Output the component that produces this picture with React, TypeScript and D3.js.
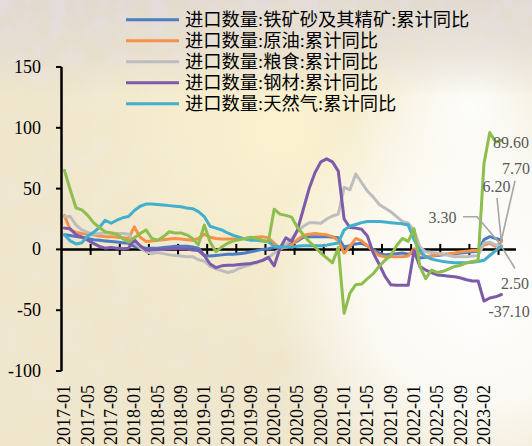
import React from 'react';
import * as d3 from 'd3';

// ---- categories (2023-01 is absent: Jan-Feb are reported together) ----
const categories: string[] = [
  '2017-01','2017-02','2017-03','2017-04','2017-05','2017-06','2017-07','2017-08','2017-09','2017-10','2017-11','2017-12',
  '2018-01','2018-02','2018-03','2018-04','2018-05','2018-06','2018-07','2018-08','2018-09','2018-10','2018-11','2018-12',
  '2019-01','2019-02','2019-03','2019-04','2019-05','2019-06','2019-07','2019-08','2019-09','2019-10','2019-11','2019-12',
  '2020-01','2020-02','2020-03','2020-04','2020-05','2020-06','2020-07','2020-08','2020-09','2020-10','2020-11','2020-12',
  '2021-01','2021-02','2021-03','2021-04','2021-05','2021-06','2021-07','2021-08','2021-09','2021-10','2021-11','2021-12',
  '2022-01','2022-02','2022-03','2022-04','2022-05','2022-06','2022-07','2022-08','2022-09','2022-10','2022-11','2022-12',
  '2023-02','2023-03','2023-04','2023-05','2023-06','2023-07',
];

// ---- series values (cumulative y/y, %) ----
const ironOre: number[] = [
  12, 11.5, 10.5, 10, 9, 8, 7.5, 7, 6.5, 6, 5.5, 5,
  2.5, 1.5, 1, 1, 1, 1.5, 2, 2.5, 2.5, 2.5, 2, 1,
  -5, -5.5, -5, -4.5, -4, -4, -3.5, -3, -2, -1, 0, 0.5,
  1.5, 2, 3, 4.5, 7, 10, 10.5, 10.5, 10.5, 10.5, 10, 9.5,
  2, 3, 4.5, 5, 3, 0, -3, -4.5, -4, -3.5, -3, -3.9,
  -2.5, -7, -6.5, -5.5, -5, -4.5, -4, -3.5, -3, -2.5, -2, -1.5,
  8, 10.5, 9, 7.7,
];
const crudeOil: number[] = [
  28, 16, 14, 13, 12.5, 12, 11, 10.5, 10.5, 10, 9.5, 9,
  18.5, 10, 6.5, 7, 7.5, 8, 8.5, 9, 8.5, 8, 7.5, 9,
  12.5, 10, 9, 8.5, 8.5, 8.5, 9, 9, 9.5, 10, 10.5, 9.5,
  5, 1, 1.5, 4, 8, 11.5, 12.5, 13, 12.5, 12, 10.5, 7.3,
  -3, 2.5, 9, 7, 3, -1.5, -5, -6, -6, -6, -6, -5.4,
  0.5, -3, -6, -5.5, -4.5, -4, -3.5, -3, -2, -1.5, -1, -0.9,
  3.5, 5, 2.5, 6.2,
];
const grain: number[] = [
  27, 27, 20, 16, 14, 12.5, 13, 13.5, 13.5, 13, 13, 12.5,
  6, 1, -2, -3.5, -2.5, -3.5, -4.5, -5, -5.5, -6, -6, -8.5,
  -9.5, -14, -16, -17.5, -19, -18, -15.5, -14, -12.5, -11, -9, -7,
  -3, 0, 4, 9, 15, 19, 22, 22, 21.5, 25, 27.5, 29,
  51, 49, 62, 55, 48, 43, 37, 34, 31, 27, 23, 21.5,
  16, 2, -2, -2.5, -3, -4, -5, -6, -6, -6, -5.5, -5,
  5, 6, 3.5, 3.3,
];
const steel: number[] = [
  17.5, 17, 12, 10, 7.5, 5, 2.5, 1, 1.5, 1, 0.5, 1,
  8, 3, -0.5, -0.5, 0, 0, 0.5, 1, 0.5, 0.5, -0.5, -1,
  -5, -12, -15, -13.5, -13, -13, -12.5, -12, -11.5, -10.5, -9, -6.5,
  -13.5, 1, 9.5, 6.5, 16, 33, 50, 63, 72, 74.5, 72, 64.4,
  25, 18, 17.5, 16.5, 11, -3, -12, -22, -29, -29.5, -29.5, -29.5,
  -1, -14, -17, -19, -21, -21.5, -22, -22.5, -23.5, -25, -26, -26,
  -42.5, -40, -39, -37.1,
];
const naturalGas: number[] = [
  12, 7, 4.5, 5.5, 11, 14, 18, 24, 21.5, 24, 26, 27,
  32, 35.5, 37.3, 37.3, 37, 36.5, 36, 35.5, 35, 34, 33.5, 31,
  27, 19, 17.5, 16, 13.5, 11.5, 10, 8.5, 7.5, 7.5, 7, 6.5,
  2.5, 2, 2, 2, 2.5, 3, 3, 3, 3, 3.5, 4.5, 5.3,
  16, 19, 20.5, 22, 23, 23, 23, 22.5, 22, 21.5, 21, 20,
  8, -1, -6, -8, -9, -10, -10.5, -11, -11, -11, -10.5, -9.9,
  -9, -5, -1, 2.5,
];
const coal: number[] = [
  65, 49, 34, 32.5, 28, 22, 18, 14.5, 13.5, 12.5, 9, 6.1,
  9.5, 13, 16, 9, 7.5, 10.5, 14.5, 13.5, 13.5, 12, 9, 3.9,
  20, 6, -2, 2, 5, 7, 8, 9, 10, 9, 7.5, 6.3,
  33, 29, 28, 26.5, 18, 12, 6.5, 2, -3, -7, -11, 1.5,
  -52.6, -36, -29, -28.5, -24, -20, -14, -9, -5, 3, 9, 6.6,
  17, -14, -24, -17, -19, -18, -16, -14, -13, -11, -10, -9.2,
  70.5, 96.1, 88.2, 89.6,
];

const legendNames: string[] = [
  '进口数量:铁矿砂及其精矿:累计同比',
  '进口数量:原油:累计同比',
  '进口数量:粮食:累计同比',
  '进口数量:钢材:累计同比',
  '进口数量:天然气:累计同比',
];
const yTicks: number[] = [-100, -50, 0, 50, 100, 150];
const endLabels: string[] = ['7.70', '6.20', '3.30', '89.60', '2.50', '-37.10'];

const COLORS = ['#4A7DC4', '#F59148', '#BDBDBD', '#7D5BAA', '#42AFCC', '#8DBE4E'];
const SERIES = [ironOre, crudeOil, grain, steel, naturalGas, coal];
const FONT = "'Liberation Serif', 'Times New Roman', 'DejaVu Serif', 'Noto Sans CJK SC', serif";

export default function App() {
  const W = 532;
  const H = 446;
  const x = d3.scaleBand<string>().domain(categories).range([61.5, 516]).padding(0);
  const y = d3.scaleLinear().domain([-100, 150]).range([371, 67]);
  const bw = x.bandwidth();
  const cx = (i: number) => (x(categories[i]) as number) + bw / 2;
  const line = d3
    .line<number>()
    .x((_, i) => cx(i))
    .y((d) => y(d));

  const y0 = y(0);
  const tickIdx = d3.range(5, categories.length, 5);
  const labelIdx = d3.range(0, 73, 4);

  const ends = SERIES.map((s) => ({ x: cx(s.length - 1), y: y(s[s.length - 1]) }));
  const lblColor = '#595959';
  const leaderColor = '#A6A6A6';

  return (
    <svg
      width={W}
      height={H}
      viewBox={`0 0 ${W} ${H}`}
      style={{ position: 'absolute', left: 0, top: 0, display: 'block' }}
      fontFamily={FONT}
    >
      <defs>
        <radialGradient id="glowW" cx="480" cy="290" r="210" gradientUnits="userSpaceOnUse">
          <stop offset="0" stopColor="#ffffff" stopOpacity="1" />
          <stop offset="0.55" stopColor="#ffffff" stopOpacity="0.75" />
          <stop offset="1" stopColor="#ffffff" stopOpacity="0" />
        </radialGradient>
        <radialGradient id="glowW2" cx="470" cy="110" r="120" gradientUnits="userSpaceOnUse">
          <stop offset="0" stopColor="#fdfdfb" stopOpacity="1" />
          <stop offset="1" stopColor="#fdfdfb" stopOpacity="0" />
        </radialGradient>
        <radialGradient id="glowY" cx="280" cy="130" r="230" gradientUnits="userSpaceOnUse">
          <stop offset="0" stopColor="#fcf3cf" stopOpacity="0.9" />
          <stop offset="1" stopColor="#fcf3cf" stopOpacity="0" />
        </radialGradient>
        <linearGradient id="topBand" x1="0" y1="0" x2="0" y2="1">
          <stop offset="0" stopColor="#fff" stopOpacity="1" />
          <stop offset="0.55" stopColor="#fff" stopOpacity="0.65" />
          <stop offset="1" stopColor="#fff" stopOpacity="0" />
        </linearGradient>
        <mask id="topMask">
          <rect x="0" y="0" width={W} height="95" fill="url(#topBand)" />
        </mask>
        <filter id="noise" x="0" y="0" width="100%" height="100%">
          <feTurbulence type="fractalNoise" baseFrequency="0.06" numOctaves="2" seed="4" />
          <feColorMatrix
            type="matrix"
            values="0 0 0 0 0.76  0 0 0 0 0.71  0 0 0 0 0.71  2.8 0 0 0 -0.95"
          />
        </filter>
        <filter id="noise2" x="0" y="0" width="100%" height="100%">
          <feTurbulence type="fractalNoise" baseFrequency="0.035" numOctaves="2" seed="9" />
          <feColorMatrix
            type="matrix"
            values="0 0 0 0 0.86  0 0 0 0 0.82  0 0 0 0 0.72  2.0 0 0 0 -0.85"
          />
        </filter>
      </defs>

      {/* background */}
      <rect x={0} y={0} width={W} height={H} fill="#EFE6CC" />
      <rect x={0} y={0} width={W} height={H} filter="url(#noise2)" opacity={0.55} />
      <rect x={0} y={0} width={W} height={H} fill="url(#glowY)" />
      <rect x={0} y={0} width={W} height={H} fill="url(#glowW)" />
      <rect x={0} y={0} width={W} height={H} fill="url(#glowW2)" />
      <g mask="url(#topMask)">
        <rect x={0} y={0} width={W} height={95} fill="#D9D1CC" opacity={0.6} />
        <rect x={0} y={0} width={W} height={95} filter="url(#noise)" />
      </g>

      {/* y axis */}
      <line x1={61.5} x2={61.5} y1={y(150)} y2={y(-100)} stroke="#000" strokeWidth={2.5} />
      {yTicks.map((t) => (
        <g key={t}>
          <line x1={56} x2={61.5} y1={y(t)} y2={y(t)} stroke="#000" strokeWidth={2} />
          <text
            x={41}
            y={y(t)}
            textAnchor="end"
            dominantBaseline="central"
            fontSize={18}
            fill="#000"
          >
            {t}
          </text>
        </g>
      ))}

      {/* x axis */}
      <line x1={61.5} x2={516} y1={y0} y2={y0} stroke="#000" strokeWidth={2.5} />
      {tickIdx.map((i) => (
        <line
          key={i}
          x1={x(categories[i]) as number}
          x2={x(categories[i]) as number}
          y1={y0 - 5.5}
          y2={y0 + 5.5}
          stroke="#000"
          strokeWidth={2}
        />
      ))}
      {labelIdx.map((i) => (
        <text
          key={i}
          transform={`translate(${cx(i)},385) rotate(-90)`}
          textAnchor="end"
          dominantBaseline="central"
          fontSize={18}
          fill="#000"
        >
          {categories[i]}
        </text>
      ))}

      {/* series */}
      {SERIES.map((s, k) => (
        <path
          key={k}
          d={line(s) as string}
          fill="none"
          stroke={COLORS[k]}
          strokeWidth={3}
          strokeLinejoin="round"
          strokeLinecap="round"
        />
      ))}

      {/* leader lines */}
      <g stroke={leaderColor} strokeWidth={1.6} fill="none">
        <polyline points={`515,180.7 ${ends[0].x},${ends[0].y}`} />
        <polyline points={`497,198 ${ends[1].x},${ends[1].y}`} />
        <polyline points={`463,216.7 477,216.7 ${ends[2].x},${ends[2].y}`} />
        <polyline points={`515,268.5 ${ends[4].x},${ends[4].y}`} />
      </g>

      {/* end value labels */}
      <g fontSize={16} fill={lblColor}>
        <text x={502} y={168.5} dominantBaseline="central">{endLabels[0]}</text>
        <text x={482.5} y={186} dominantBaseline="central">{endLabels[1]}</text>
        <text x={428.5} y={217.3} dominantBaseline="central">{endLabels[2]}</text>
        <text x={ends[5].x - 8.5} y={ends[5].y + 2.5} dominantBaseline="central">{endLabels[3]}</text>
        <text x={501} y={283.3} dominantBaseline="central">{endLabels[4]}</text>
        <text x={488.5} y={ends[3].y + 16.5} dominantBaseline="central">{endLabels[5]}</text>
      </g>

      {/* legend */}
      {legendNames.map((n, j) => (
        <g key={n} transform={`translate(0,${19.7 + 21 * j})`}>
          <line x1={126} x2={179} y1={0} y2={0} stroke={COLORS[j]} strokeWidth={3} />
          <text x={185} y={0} dominantBaseline="central" fontSize={18.3} fill="#000">
            {n}
          </text>
        </g>
      ))}
    </svg>
  );
}
